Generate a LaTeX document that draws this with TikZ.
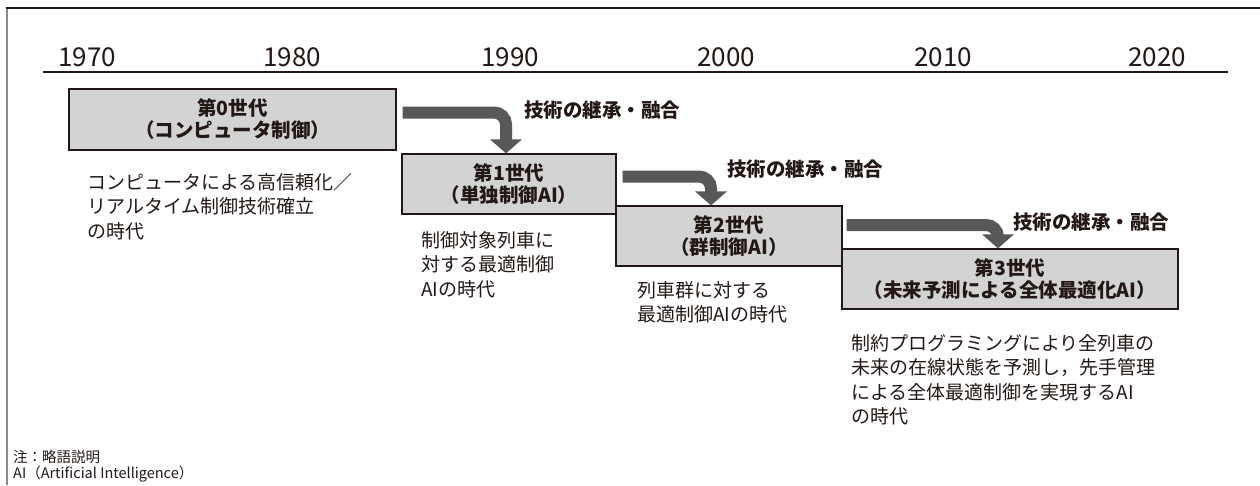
\documentclass[tikz,border=0pt]{standalone}
\usepackage{fontspec}
\setmainfont{Noto Sans CJK JP}
\usetikzlibrary{arrows.meta,calc}
\definecolor{ink}{HTML}{231815}
\definecolor{boxfill}{HTML}{D3D3D3}
\definecolor{flowc}{HTML}{595757}
\definecolor{framegray}{HTML}{8A8A8A}
\begin{document}
\begin{tikzpicture}[x=1pt,y=-1pt,
  gen/.style={draw=ink, line width=1.2pt, fill=boxfill, inner sep=0pt, align=center,
    font=\bfseries\fontsize{19.5}{22}\selectfont, text=ink},
  desc/.style={anchor=north west, inner sep=0pt, align=left,
    font=\fontsize{19}{24.5}\selectfont, text=ink},
  yearlbl/.style={anchor=base, inner sep=0pt, font=\fontsize{26}{26}\selectfont, text=ink},
  flowlbl/.style={anchor=west, inner sep=0pt, font=\bfseries\fontsize{19.5}{20}\selectfont, text=ink},
  flow/.style={draw=flowc, line width=12pt, rounded corners=12pt,
    -{Triangle[width=31pt,length=14pt]}},
]
\useasboundingbox (0,0) rectangle (1260,485);
\fill[white] (0,0) rectangle (1260,485);
% frame
\draw[framegray, line width=1.6pt] (7,485) -- (7,8);
\draw[ink, line width=1.4pt] (6.2,8) -- (1260,8);
% timeline
\draw[ink, line width=2.2pt] (43,72) -- (1228,72);
\node[yearlbl] (y1970) at (87,66) {1970};
\node[yearlbl] (y1980) at (292,66) {1980};
\node[yearlbl] (y1990) at (510,66) {1990};
\node[yearlbl] (y2000) at (726,66) {2000};
\node[yearlbl] (y2010) at (943,66) {2010};
\node[yearlbl] (y2020) at (1157,66) {2020};
% generation boxes
\node[gen, minimum width=327pt, minimum height=61pt] (g0) at (232.5,119.5) {第0世代\\（コンピュータ制御）};
\node[gen, minimum width=214pt, minimum height=60pt] (g1) at (509,184) {第1世代\\（単独制御AI）};
\node[gen, minimum width=226pt, minimum height=60pt] (g2) at (729,236) {第2世代\\（群制御AI）};
\node[gen, minimum width=336pt, minimum height=60pt] (g3) at (1010,279) {第3世代\\（未来予測による全体最適化AI）};
% flows
\draw[flow] ($(g0.east)+(6,-7)$) -| ($(g1.north)+(-3,0)$);
\draw[flow] ($(g1.east)+(6,-7.5)$) -| ($(g2.north)+(-18,0)$);
\draw[flow] ($(g2.east)+(4,-11)$) -| ($(g3.north)+(-12,0)$);
\node[flowlbl] (l1) at (524,110) {技術の継承・融合};
\node[flowlbl] (l2) at (727,169) {技術の継承・融合};
\node[flowlbl] (l3) at (1013,222) {技術の継承・融合};
% descriptions
\node[desc] (d0) at (87,173) {コンピュータによる高信頼化／\\リアルタイム制御技術確立\\の時代};
\node[desc] (d1) at (421,231) {制御対象列車に\\対する最適制御\\AIの時代};
\node[desc] (d2) at (637,281) {列車群に対する\\最適制御AIの時代};
\node[desc] (d3) at (851,334) {制約プログラミングにより全列車の\\未来の在線状態を予測し，先手管理\\による全体最適制御を実現するAI\\の時代};
% note
\node[desc, font=\fontsize{14.5}{16.5}\selectfont] (note) at (13,450) {注：略語説明\\AI（Artificial Intelligence）};
\end{tikzpicture}
\end{document}
